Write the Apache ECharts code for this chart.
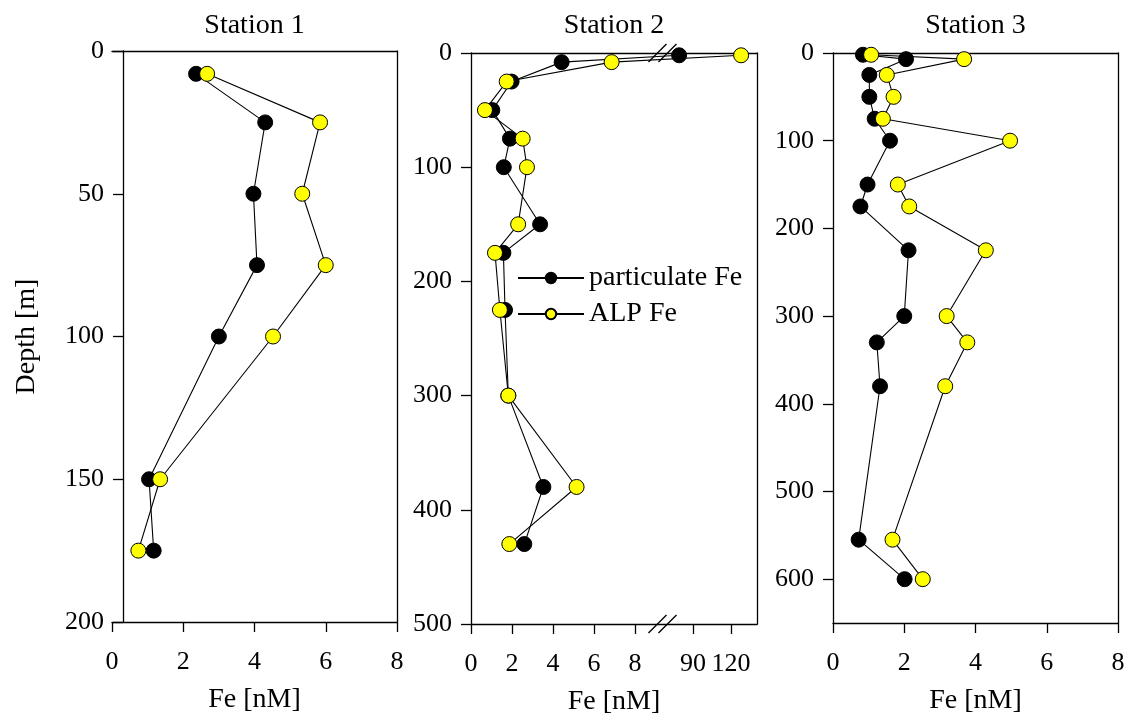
<!DOCTYPE html>
<html>
<head>
<meta charset="utf-8">
<script src="https://cdn.jsdelivr.net/npm/echarts@6/dist/echarts.min.js"></script>
<style>
html, body { margin: 0; padding: 0; background: #fff; }
#chart { width: 1133px; height: 723px; }
</style>
</head>
<body>
<div id="chart"></div>
<script>
var titles = ['Station 1', 'Station 2', 'Station 3'];

// Station 1
var depth1 = [8, 25, 50, 75, 100, 150, 175];
var part1 = [2.36, 4.3, 3.97, 4.07, 3.0, 1.04, 1.17];
var alp1 = [2.67, 5.84, 5.34, 6.0, 4.52, 1.35, 0.74];

// Station 2 (first value sits beyond the axis break)
var depth2 = [2, 8, 25, 50, 75, 100, 150, 175, 225, 300, 380, 430];
var part2 = [79, 4.42, 1.98, 1.04, 1.9, 1.6, 3.37, 1.58, 1.66, 1.82, 3.53, 2.6];
var alp2 = [128, 6.86, 1.74, 0.68, 2.52, 2.73, 2.3, 1.17, 1.41, 1.82, 5.15, 1.87];

// Station 3
var depth3 = [2, 7, 25, 50, 75, 100, 150, 175, 225, 300, 330, 380, 555, 600];
var part3 = [0.84, 2.05, 1.02, 1.02, 1.17, 1.6, 0.97, 0.77, 2.12, 2.0, 1.23, 1.32, 0.72, 2.01];
var alp3 = [1.07, 3.68, 1.51, 1.7, 1.4, 4.97, 1.82, 2.14, 4.29, 3.19, 3.77, 3.15, 1.67, 2.52];

// tick labels
var feTicks = [0, 2, 4, 6, 8];
var feTicks2 = [0, 2, 4, 6, 8, 90, 120];
var depthTicks1 = [0, 50, 100, 150, 200];
var depthTicks2 = [0, 100, 200, 300, 400, 500];
var depthTicks3 = [0, 100, 200, 300, 400, 500, 600];

// broken Fe axis of station 2: 0-8 linear, then compressed segment after the break
function brk(v) {
  return v <= 8 ? v : 10.83 + (v - 90) * 0.0617;
}

var font = 'Liberation Serif';
var black = '#000';
var axLine = { show: true, onZero: false, lineStyle: { color: black, width: 1.3 } };

function pairs(xs, ys, f) {
  return xs.map(function (x, i) { return [f ? f(x) : x, ys[i]]; });
}

var grids = [
  { left: 112, top: 51, width: 285, height: 571 },
  { left: 471, top: 53, width: 286, height: 571 },
  { left: 833, top: 53, width: 285, height: 570 }
];

function bottomX(gi, max, ticks, f) {
  var vals = ticks.map(function (t) { return f ? f(t) : t; });
  return {
    type: 'value', gridIndex: gi, position: 'bottom', min: 0, max: max,
    axisLine: axLine,
    axisTick: { show: true, length: 10, customValues: vals, lineStyle: { color: black, width: 1.3 } },
    axisLabel: {
      customValues: vals, margin: 27, fontSize: 26, fontFamily: font, color: black,
      formatter: function (v) {
        for (var i = 0; i < vals.length; i++) {
          if (Math.abs(vals[i] - v) < 1e-6) return String(ticks[i]);
        }
        return '';
      }
    },
    splitLine: { show: false },
    name: 'Fe [nM]', nameLocation: 'middle', nameGap: 64,
    nameTextStyle: { fontSize: 28, fontFamily: font, color: black }
  };
}

function topX(gi, max) {
  return {
    type: 'value', gridIndex: gi, position: 'top', min: 0, max: max,
    axisLine: axLine,
    axisTick: { show: false }, axisLabel: { show: false }, splitLine: { show: false }
  };
}

function leftY(gi, max, ticks, extra) {
  var ax = {
    type: 'value', gridIndex: gi, position: 'left', inverse: true, min: 0, max: max,
    axisLine: axLine,
    axisTick: { show: true, length: 10, customValues: ticks, lineStyle: { color: black, width: 1.3 } },
    axisLabel: { customValues: ticks, margin: 19, fontSize: 26, fontFamily: font, color: black },
    splitLine: { show: false }
  };
  if (extra) Object.assign(ax, extra);
  return ax;
}

function rightY(gi, max) {
  return {
    type: 'value', gridIndex: gi, position: 'right', inverse: true, min: 0, max: max,
    axisLine: axLine,
    axisTick: { show: false }, axisLabel: { show: false }, splitLine: { show: false }
  };
}

function lineSeries(name, gi, data, fill) {
  return {
    name: name, type: 'line', xAxisIndex: gi, yAxisIndex: gi, data: data,
    symbol: 'circle', symbolSize: 15, showSymbol: true,
    lineStyle: { color: black, width: 1.1 },
    itemStyle: { color: fill, borderColor: black, borderWidth: 1 },
    emphasis: { disabled: true }
  };
}

var chart = echarts.init(document.getElementById('chart'));
chart.setOption({
  animation: false,
  backgroundColor: '#fff',
  grid: grids.map(function (g) {
    return Object.assign({ containLabel: false, outerBoundsMode: 'none' }, g);
  }),
  xAxis: [
    bottomX(0, 8, feTicks),
    bottomX(1, 13.95, feTicks2, brk),
    bottomX(2, 8, feTicks),
    topX(0, 8), topX(1, 13.95), topX(2, 8)
  ],
  yAxis: [
    leftY(0, 200, depthTicks1, {
      offset: -11, name: 'Depth [m]', nameLocation: 'middle', nameGap: 82, nameRotate: 90,
      nameTextStyle: { fontSize: 28, fontFamily: font, color: black }
    }),
    leftY(1, 500, depthTicks2),
    leftY(2, 650, depthTicks3),
    rightY(0, 200), rightY(1, 500), rightY(2, 650)
  ],
  legend: {
    data: ['particulate Fe', 'ALP Fe'],
    orient: 'vertical', left: 512, top: 259,
    itemWidth: 66, itemHeight: 13, itemGap: 8,
    textStyle: { fontSize: 28, fontFamily: font, color: black },
    selectedMode: false
  },
  series: [
    lineSeries('particulate Fe', 0, pairs(part1, depth1), black),
    lineSeries('ALP Fe', 0, pairs(alp1, depth1), '#ffff00'),
    lineSeries('particulate Fe', 1, pairs(part2, depth2, brk), black),
    lineSeries('ALP Fe', 1, pairs(alp2, depth2, brk), '#ffff00'),
    lineSeries('particulate Fe', 2, pairs(part3, depth3), black),
    lineSeries('ALP Fe', 2, pairs(alp3, depth3), '#ffff00')
  ]
});

// titles and the "//" break marks on station 2
var gfx = titles.map(function (t, i) {
  return {
    type: 'text',
    x: grids[i].left + grids[i].width / 2, y: 26,
    style: { text: t, font: '28px "' + font + '"', fill: black, textAlign: 'center', textVerticalAlign: 'middle' }
  };
});
[0, 500].forEach(function (d) {
  var p = chart.convertToPixel({ xAxisIndex: 1, yAxisIndex: 1 }, [9.34, d]);
  [-5, 5].forEach(function (dx) {
    gfx.push({
      type: 'line', z: 100,
      shape: { x1: p[0] + dx - 9, y1: p[1] + 9, x2: p[0] + dx + 9, y2: p[1] - 9 },
      style: { stroke: black, lineWidth: 1.3 }
    });
  });
});
chart.setOption({ graphic: gfx });
</script>
</body>
</html>
